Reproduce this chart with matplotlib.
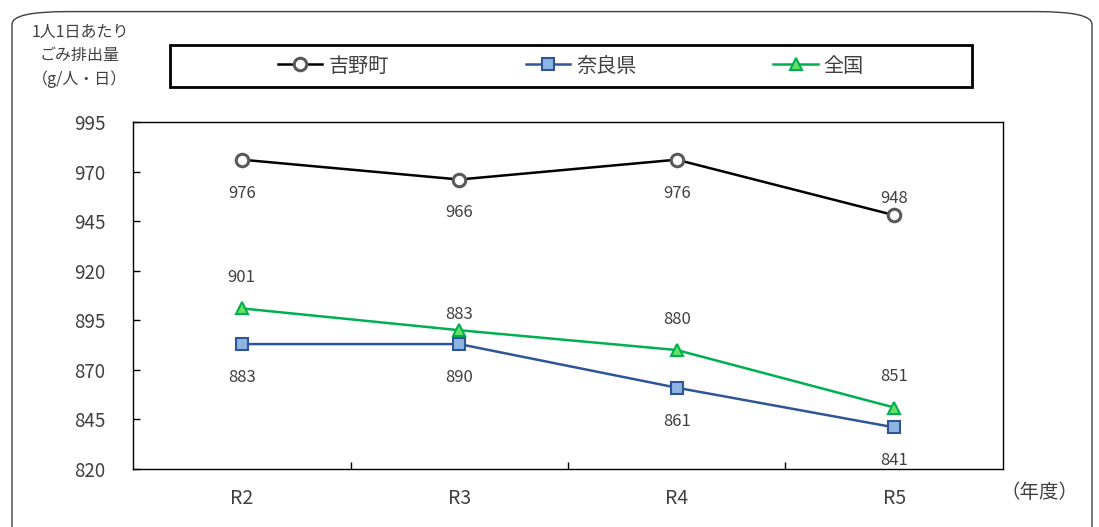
import numpy as np
import matplotlib
matplotlib.use("Agg")
from matplotlib import pyplot as plt
from matplotlib.patches import FancyBboxPatch, Rectangle
from matplotlib.lines import Line2D

plt.rcParams['font.family'] = ['Noto Sans CJK JP', 'DejaVu Sans']

# data
years = ["R2", "R3", "R4", "R5"]
yoshino = [976, 966, 976, 948]
nara = [883, 883, 861, 841]
zenkoku = [901, 890, 880, 851]
# labels as printed in the original chart
yoshino_labels = ["976", "966", "976", "948"]
nara_labels = ["883", "890", "861", "841"]
zenkoku_labels = ["901", "883", "880", "851"]

fig = plt.figure(figsize=(10.99, 5.27), dpi=100)
ax = fig.add_axes([133/1099, 1-469/527, 870/1099, 347/527])

# rounded outer frame
frame = FancyBboxPatch((12/1099, -0.05), 1080/1099, 1.028, transform=fig.transFigure,
                       boxstyle="round,pad=0,rounding_size=0.05",
                       fc="none", ec="#404040", lw=1.0, mutation_aspect=527/1099)
fig.patches.append(frame)

x = np.arange(len(years))
txt_col = "#404040"

ax.plot(x, yoshino, color="black", lw=1.8, marker="o", ms=9, mfc="white",
        mec="#595959", mew=2.2, zorder=3)
ax.plot(x, nara, color="#2F5597", lw=1.8, marker="s", ms=8, mfc="#8EB4E3",
        mec="#2F5597", mew=1.5, zorder=3)
ax.plot(x, zenkoku, color="#00B050", lw=1.8, marker="^", ms=9, mfc="#66E066",
        mec="#00B050", mew=1.5, zorder=3)

# data labels
for i in range(len(years)):
    dy = 12 if i == 3 else -24
    ax.annotate(yoshino_labels[i], (x[i], yoshino[i]), xytext=(0, dy), textcoords="offset points",
                ha="center", va="center", fontsize=12, color=txt_col)
    ax.annotate(nara_labels[i], (x[i], nara[i]), xytext=(0, -24), textcoords="offset points",
                ha="center", va="center", fontsize=12, color=txt_col)
    dy = 11 if i == 1 else 22
    ax.annotate(zenkoku_labels[i], (x[i], zenkoku[i]), xytext=(0, dy), textcoords="offset points",
                ha="center", va="center", fontsize=12, color=txt_col)

ax.set_xlim(-0.5, 3.5)
ax.set_ylim(820, 995)
ax.set_yticks(np.arange(820, 996, 25))
ax.set_xticks(x)
ax.set_xticklabels(years, fontsize=14, color=txt_col)
ax.set_xticks([0.5, 1.5, 2.5], minor=True)
ax.tick_params(axis="x", which="major", length=0, pad=14)
ax.tick_params(axis="x", which="minor", direction="in", length=5, width=1, color="black")
ax.tick_params(axis="y", direction="in", length=5, width=1, labelsize=13.5, labelcolor=txt_col, pad=20)
for s in ax.spines.values():
    s.set_color("black")
    s.set_linewidth(1.0)

fig.text(80/1099, 1-56/527, "1人1日あたり\nごみ排出量\n（g/人・日）", ha="center", va="center",
         fontsize=11.5, color=txt_col, linespacing=1.45)
fig.text(1040/1099, 1-493/527, "（年度）", ha="center", va="center", fontsize=14, color=txt_col)

# legend box
fig.patches.append(Rectangle((170/1099, 1-87/527), 802/1099, 42/527, transform=fig.transFigure,
                             fc="white", ec="black", lw=2, zorder=1))
handles = [
    Line2D([], [], color="black", lw=1.8, marker="o", ms=9, mfc="white", mec="#595959", mew=2.2),
    Line2D([], [], color="#2F5597", lw=1.8, marker="s", ms=8, mfc="#8EB4E3", mec="#2F5597", mew=1.5),
    Line2D([], [], color="#00B050", lw=1.8, marker="^", ms=9, mfc="#66E066", mec="#00B050", mew=1.5),
]
leg = fig.legend(handles, ["吉野町", "奈良県", "全国"], ncol=3, loc="center",
                 bbox_to_anchor=(571/1099, 1-66/527), fontsize=14.5, frameon=False,
                 handlelength=2.2, handletextpad=0.3, columnspacing=6.8)
for t in leg.get_texts():
    t.set_color(txt_col)

fig.savefig("out.png", dpi=100)
